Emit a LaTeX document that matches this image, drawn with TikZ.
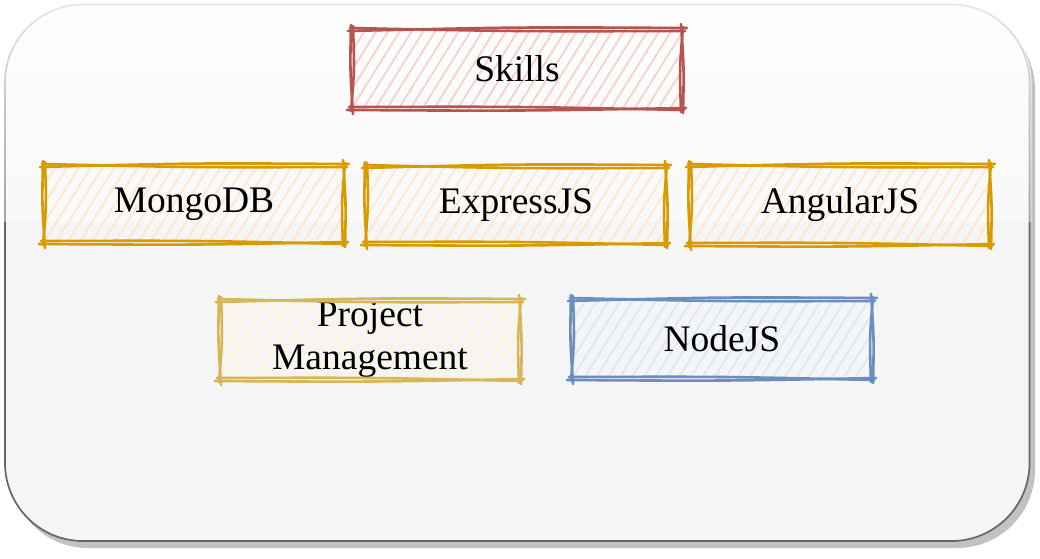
\documentclass[tikz,border=0pt]{standalone}
\usepackage{fontspec}
\setmainfont{Liberation Serif}
\usetikzlibrary{calc,patterns.meta,fadings}
\definecolor{redS}{HTML}{B85450}\definecolor{redF}{HTML}{F8CECC}
\definecolor{orS}{HTML}{D79B00}\definecolor{orF}{HTML}{FFE6CC}
\definecolor{yeS}{HTML}{D6B656}\definecolor{yeF}{HTML}{FFF2CC}
\definecolor{blS}{HTML}{6C8EBF}\definecolor{blF}{HTML}{DAE8FC}
\definecolor{outS}{HTML}{666666}\definecolor{outF}{HTML}{F5F5F5}
\definecolor{shad}{HTML}{C2C2C2}
\tikzfading[name=glassfade, top color=transparent!15, bottom color=transparent!60]
\tikzset{
  skbox/.style={rectangle, draw=none, outer sep=0pt, inner sep=0pt,
    minimum width=300, minimum height=80, align=center,
    font=\fontsize{37.5}{43}\selectfont,
    pattern={Lines[angle=58,distance=10pt,line width=1.7pt]}},
  skl/.style={line width=2.6pt, line cap=round, line join=round},
}
\newcommand\sketchit[2]{%
\draw[skl,#2] ([shift={(-4,2)}]#1.north west) .. controls ($(#1.north)+(0,-2)$) .. ([shift={(5,-1)}]#1.north east);
\draw[skl,#2] ([shift={(-2,-1)}]#1.north west) .. controls ($(#1.north)+(0,2.5)$) .. ([shift={(3,2)}]#1.north east);
\draw[skl,#2] ([shift={(-1,-5)}]#1.north east) .. controls ($(#1.east)+(2,0)$) .. ([shift={(1,4)}]#1.south east);
\draw[skl,#2] ([shift={(1,-2)}]#1.north east) .. controls ($(#1.east)+(-2.5,0)$) .. ([shift={(-1,3)}]#1.south east);
\draw[skl,#2] ([shift={(4,-1)}]#1.south east) .. controls ($(#1.south)+(0,2)$) .. ([shift={(-5,1)}]#1.south west);
\draw[skl,#2] ([shift={(2,1)}]#1.south east) .. controls ($(#1.south)+(0,-2.5)$) .. ([shift={(-3,-2)}]#1.south west);
\draw[skl,#2] ([shift={(1,5)}]#1.south west) .. controls ($(#1.west)+(-2,0)$) .. ([shift={(-1,-4)}]#1.north west);
\draw[skl,#2] ([shift={(-1,2)}]#1.south west) .. controls ($(#1.west)+(2.5,0)$) .. ([shift={(1,-3)}]#1.north west);
}
\begin{document}
\begin{tikzpicture}[x=1pt,y=-1pt]
\useasboundingbox (0,0) rectangle (1040,558);
% outer container
\fill[shad, rounded corners=78] (10,11.5) rectangle (1035,548);
\draw[outS, fill=outF, line width=1.7pt, rounded corners=78] (5,4.5) rectangle (1029.5,541);
\begin{scope}
\clip[rounded corners=80] (3,2.5) rectangle (1031.5,543);
\fill[white, path fading=glassfade] (0,0) rectangle (1040,222);
\end{scope}
% boxes
\node[skbox, minimum width=330, pattern color=redF] (skills) at (517,69) {Skills};
\node[skbox, minimum height=78, pattern color=orF] (mongo) at (194,204) {MongoDB};
\node[skbox, minimum height=78, pattern color=orF] (express) at (516,205) {ExpressJS};
\node[skbox, minimum height=80, pattern color=orF] (angular) at (840,205) {AngularJS};
\node[skbox, minimum height=80, pattern color=yeF] (pm) at (370,340) {Project\\Management};
\node[skbox, minimum height=80, pattern color=blF] (node) at (722,339) {NodeJS};
\sketchit{skills}{redS}
\sketchit{mongo}{orS}
\sketchit{express}{orS}
\sketchit{angular}{orS}
\sketchit{pm}{yeS}
\sketchit{node}{blS}
\end{tikzpicture}
\end{document}
